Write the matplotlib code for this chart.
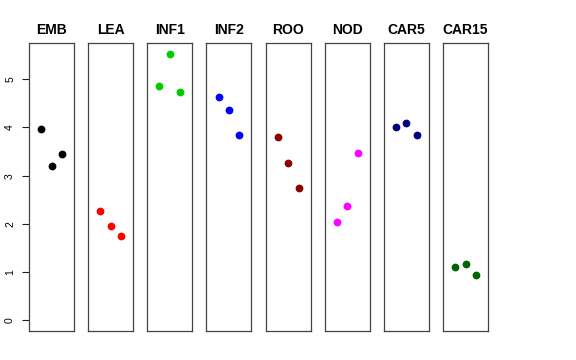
import matplotlib
matplotlib.use("Agg")
import matplotlib.pyplot as plt

plt.rcParams["font.family"] = ["Liberation Sans", "DejaVu Sans"]

groups = ["EMB", "LEA", "INF1", "INF2", "ROO", "NOD", "CAR5", "CAR15"]
colors = ["black", "red", "#00CD00", "blue", "#8B0000", "magenta", "#000080", "#006400"]
xpos = [1, 2, 3]
values = [
    [3.97, 3.21, 3.45],
    [2.27, 1.96, 1.74],
    [4.85, 5.53, 4.73],
    [4.63, 4.36, 3.84],
    [3.81, 3.27, 2.74],
    [2.03, 2.37, 3.46],
    [4.00, 4.09, 3.84],
    [1.11, 1.16, 0.95],
]
yticks = [0, 1, 2, 3, 4, 5]

W, H = 576, 360
fig = plt.figure(figsize=(W / 100, H / 100), dpi=100)

left0, step, pw = 29, 59.15, 45
bottom, top = 331, 43
ymax = max(max(v) for v in values)
ypad = ymax * 0.04

for i, (name, col, vals) in enumerate(zip(groups, colors, values)):
    ax = fig.add_axes([(left0 + i * step) / W, 1 - bottom / H,
                       pw / W, (bottom - top) / H])
    ax.plot(xpos, vals, "o", color=col, markersize=4.6, linestyle="none")
    ax.set_xlim(-0.16, 4.16)
    ax.set_ylim(-ypad, ymax + ypad)
    ax.set_xticks([])
    for s in ax.spines.values():
        s.set_color("#444444")
        s.set_linewidth(0.9)
    ax.set_title(name, fontsize=10, fontweight="bold", pad=6.5)
    if i == 0:
        ax.set_yticks(yticks)
        ax.set_yticklabels([str(t) for t in yticks], rotation=90,
                           va="center", fontsize=7.5)
        ax.tick_params(axis="y", length=5, width=0.8, pad=5, color="#222222")
    else:
        ax.set_yticks([])

fig.savefig("out.png", dpi=100)
